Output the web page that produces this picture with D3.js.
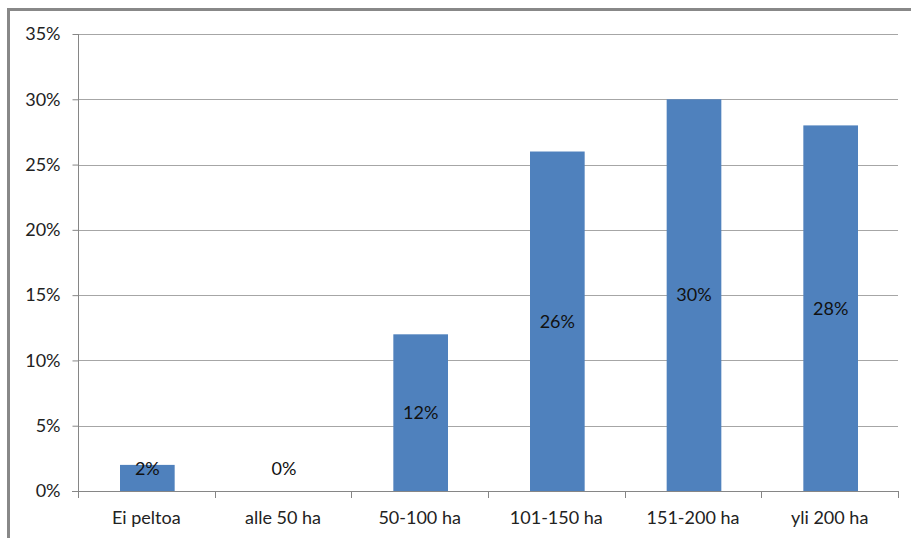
<!DOCTYPE html>
<html><head><meta charset="utf-8">
<script src="https://cdn.jsdelivr.net/npm/d3@7"></script>
<style>body{margin:0;background:#fff}svg{display:block}</style>
</head><body>
<svg id="c" width="911" height="538"></svg>
<script>
const categories = ["Ei peltoa","alle 50 ha","50-100 ha","101-150 ha","151-200 ha","yli 200 ha"];
const values = [0.02,0,0.12,0.26,0.30,0.28];
const yTicks = [0,0.05,0.10,0.15,0.20,0.25,0.30,0.35];

const svg = d3.select("#c");
const font = "Lato, 'Open Sans', sans-serif";
// outer frame
svg.append("path").attr("d","M8.5,538 V9.5 H911").attr("fill","none").attr("stroke","#888").attr("stroke-width",3);

const x = d3.scaleBand().domain(categories).range([78,898]).paddingInner(0.6).paddingOuter(0.3);
const xb = d3.scaleBand().domain(categories).range([78,898]);
const y = d3.scaleLinear().domain([0,0.35]).range([491,34]);

// gridlines
svg.append("g").selectAll("line").data(yTicks.slice(1)).join("line")
  .attr("x1",78).attr("x2",898).attr("y1",d=>Math.round(y(d))+0.5).attr("y2",d=>Math.round(y(d))+0.5)
  .attr("stroke","#a6a6a6").attr("stroke-width",1);

// bars
svg.append("g").selectAll("rect").data(values).join("rect")
  .attr("x",(d,i)=>x(categories[i])+1).attr("width",x.bandwidth())
  .attr("y",d=>y(d)).attr("height",d=>y(0)-y(d))
  .attr("fill","#4f81bd");

// y axis
const ya = d3.axisLeft(y).tickValues(yTicks).tickFormat(d=>Math.round(d*100)+"%").tickSize(6).tickPadding(12);
const yg = svg.append("g").attr("transform","translate(78.5,0)").call(ya);
yg.select(".domain").attr("stroke","#868686").attr("d","M0,"+y(0.35)+"V"+y(0));
yg.selectAll(".tick line").attr("stroke","#868686");
yg.selectAll("text").attr("font-family",font).attr("font-size",18).attr("fill","#222");

// x axis
const xa = d3.axisBottom(xb).tickSize(0).tickPadding(20);
const xg = svg.append("g").attr("transform","translate(0,491.5)").call(xa);
xg.select(".domain").attr("stroke","#868686").attr("d","M72,0H898");
xg.selectAll("text").attr("font-family",font).attr("font-size",18).attr("fill","#222");
// category tick marks
svg.append("g").selectAll("line").data(categories.concat(["_end"])).join("line")
  .attr("x1",(d,i)=>Math.round(i<categories.length?xb(d):898)+0.5)
  .attr("x2",(d,i)=>Math.round(i<categories.length?xb(d):898)+0.5)
  .attr("y1",491).attr("y2",498).attr("stroke","#868686");

// data labels
svg.append("g").selectAll("text").data(values).join("text")
  .attr("x",(d,i)=>xb(categories[i])+xb.bandwidth()/2+1)
  .attr("y",d=>Math.min((y(d)+y(0))/2, y(0)-22))
  .attr("dy","0.35em").attr("text-anchor","middle")
  .attr("font-family",font).attr("font-size",18).attr("fill","#111")
  .text(d=>Math.round(d*100)+"%");
</script>
</body></html>
